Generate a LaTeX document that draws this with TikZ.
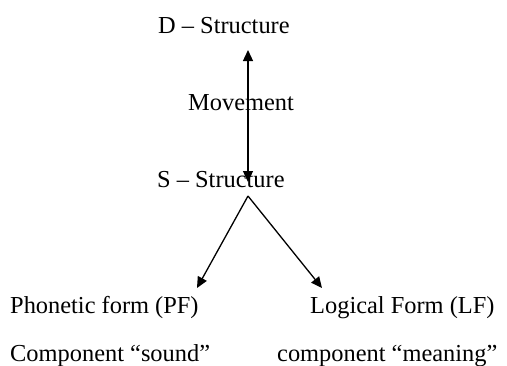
\documentclass[tikz,border=0pt]{standalone}
\usepackage{fontspec}
\setmainfont{Liberation Serif}
\usetikzlibrary{arrows.meta}

\begin{document}
\begin{tikzpicture}[x=1pt, y=-1pt, >={Triangle[width=10pt,length=11pt]},
    lbl/.style={inner sep=0pt, anchor=base west, font=\fontsize{24.4}{28}\selectfont},
    edge/.style={->, line width=1.3pt, draw=black}]

\useasboundingbox (0,0) rectangle (507,365);

\node [lbl] (dstr) at (158,33) {D -- Structure};
\node [lbl] (move) at (188,110) {Movement};
\node [lbl] (sstr) at (157,187) {S -- Structure};
\node [lbl] (pf) at (10,313) {Phonetic form (PF)};
\node [lbl] (lf) at (310,313) {Logical Form (LF)};
\node [lbl] (sound) at (10,361) {Component ``sound''};
\node [lbl] (meaning) at (277,361) {component ``meaning''};

\coordinate (top) at (248,50);
\coordinate (bot) at (248,182);
\coordinate (apex) at (248,196);
\coordinate (pfend) at (197,288);
\coordinate (lfend) at (322,288);

\draw [edge, <->] (bot) -- (top);
\draw [edge] (apex) -- (pfend);
\draw [edge] (apex) -- (lfend);

\end{tikzpicture}
\end{document}
